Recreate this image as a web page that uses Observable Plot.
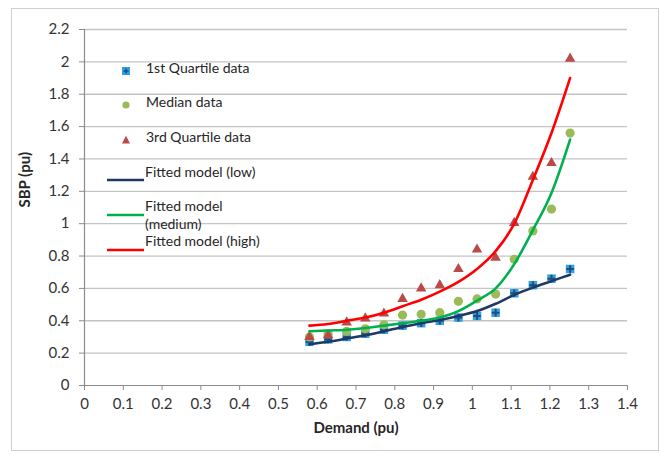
<!DOCTYPE html>
<html>
<head>
<meta charset="utf-8">
<script src="https://cdn.jsdelivr.net/npm/d3@7"></script>
<script src="https://cdn.jsdelivr.net/npm/@observablehq/plot@0.6"></script>
<style>
  html, body { margin: 0; padding: 0; background: #fff; }
  #wrap { position: relative; width: 664px; height: 456px; font-family: Lato, "Open Sans", sans-serif; }
  #border { position: absolute; left: 11px; top: 8px; width: 646px; height: 441px; border: 1px solid #cfcfcf; pointer-events: none; }
  #legend { position: absolute; left: 0; top: 0; width: 664px; height: 456px; pointer-events: none; font-size: 14px; color: #262626; }
  .item { position: absolute; white-space: nowrap; line-height: 18px; }
  .sw { position: absolute; }
</style>
</head>
<body>
<div id="wrap">
  <div id="chart"></div>
  <div id="border"></div>
  <div id="legend"></div>
</div>
<script>
// Demand (pu) for each observation
const demand = [0.58, 0.628, 0.676, 0.724, 0.772, 0.82, 0.868, 0.916, 0.964, 1.012, 1.06, 1.108, 1.156, 1.204, 1.252];
// observed SBP (pu)
const q1Data = [0.27, 0.285, 0.30, 0.32, 0.345, 0.37, 0.385, 0.40, 0.42, 0.43, 0.45, 0.57, 0.62, 0.66, 0.72];
const medianData = [0.30, 0.32, 0.335, 0.35, 0.375, 0.435, 0.44, 0.45, 0.52, 0.535, 0.565, 0.78, 0.955, 1.09, 1.56];
const q3Data = [0.30, 0.31, 0.39, 0.415, 0.445, 0.535, 0.60, 0.62, 0.72, 0.84, 0.79, 1.005, 1.29, 1.375, 2.02];
// fitted models, read at the same demand values
const fitLow = [0.255, 0.27, 0.29, 0.31, 0.335, 0.362, 0.385, 0.405, 0.43, 0.46, 0.505, 0.56, 0.605, 0.645, 0.685];
const fitMedium = [0.335, 0.34, 0.345, 0.355, 0.37, 0.385, 0.40, 0.42, 0.46, 0.525, 0.60, 0.75, 0.96, 1.19, 1.52];
const fitHigh = [0.37, 0.38, 0.40, 0.42, 0.45, 0.49, 0.53, 0.58, 0.64, 0.72, 0.83, 1.00, 1.27, 1.56, 1.90];
// axes
const xTicks = [0, 0.1, 0.2, 0.3, 0.4, 0.5, 0.6, 0.7, 0.8, 0.9, 1, 1.1, 1.2, 1.3, 1.4];
const yTicks = [0, 0.2, 0.4, 0.6, 0.8, 1, 1.2, 1.4, 1.6, 1.8, 2, 2.2];
const xTitle = "Demand (pu)";
const yTitle = "SBP (pu)";
const legendLabels = ["1st Quartile data", "Median data", "3rd Quartile data", "Fitted model (low)", "Fitted model\n(medium)", "Fitted model (high)"];

const C = {
  q1Fill: "#2f9fe6", q1Cross: "#1f4e79",
  median: "#9bbb59", q3: "#b94a48",
  low: "#1f3864", medium: "#00b050", high: "#ff0000",
  grid: "#c4c4c4", axis: "#8c8c8c", text: "#333333"
};

const idx = d3.range(demand.length);
const fmt = d => String(+d.toFixed(1));

const chart = Plot.plot({
  width: 664, height: 456,
  marginLeft: 84, marginRight: 37, marginTop: 29, marginBottom: 71,
  style: { fontFamily: "Lato, 'Open Sans', sans-serif", fontSize: "15px", color: C.text, background: "transparent" },
  x: { domain: [0, 1.4] },
  y: { domain: [0, 2.2] },
  marks: [
    Plot.gridY(yTicks.filter(d => d > 0), { stroke: C.grid, strokeOpacity: 1, strokeWidth: 1.3 }),
    Plot.axisX(xTicks, { tickSize: 5, tickPadding: 8, tickFormat: fmt, stroke: C.axis, fill: C.text, label: null }),
    Plot.axisY(yTicks, { tickSize: 5, tickPadding: 10, tickFormat: fmt, stroke: C.axis, fill: C.text, label: null }),
    Plot.ruleY([0], { stroke: C.axis, strokeWidth: 1.2 }),
    Plot.ruleX([0], { stroke: C.axis, strokeWidth: 1.2 }),
    Plot.dot(idx, { x: i => demand[i], y: i => q1Data[i], symbol: "square", fill: C.q1Fill, r: 4.8 }),
    Plot.dot(idx, { x: i => demand[i], y: i => q1Data[i], symbol: "plus", stroke: C.q1Cross, r: 2.6, strokeWidth: 2 }),
    Plot.dot(idx, { x: i => demand[i], y: i => medianData[i], symbol: "circle", fill: C.median, r: 4.6 }),
    Plot.dot(idx, { x: i => demand[i], y: i => q3Data[i], symbol: "triangle", fill: C.q3, r: 3.9 }),
    Plot.line(idx, { x: i => demand[i], y: i => fitLow[i], stroke: C.low, strokeWidth: 2.6, curve: "monotone-x" }),
    Plot.line(idx, { x: i => demand[i], y: i => fitMedium[i], stroke: C.medium, strokeWidth: 2.6, curve: "monotone-x" }),
    Plot.line(idx, { x: i => demand[i], y: i => fitHigh[i], stroke: C.high, strokeWidth: 2.6, curve: "monotone-x" }),
    Plot.text([xTitle], { frameAnchor: "bottom", dy: 47, fontWeight: "bold", fontSize: 15, fill: "#262626" }),
    Plot.text([yTitle], { frameAnchor: "left", dx: -59, rotate: -90, fontWeight: "bold", fontSize: 15, fill: "#262626" })
  ]
});
document.getElementById("chart").appendChild(chart);

// legend (inside plot area, as in the reference)
const legend = document.getElementById("legend");
const rows = [
  { y: 68.5, kind: "q1" },
  { y: 102.5, kind: "median" },
  { y: 137.5, kind: "q3" },
  { y: 172, kind: "line", color: C.low },
  { y: 206.5, kind: "line", color: C.medium },
  { y: 241.5, kind: "line", color: C.high }
];
rows.forEach((r, k) => {
  const sw = document.createElement("div");
  sw.className = "sw";
  let svg;
  if (r.kind === "q1") {
    svg = `<svg width="12" height="12"><rect x="2" y="2" width="8" height="8" fill="${C.q1Fill}"/><path d="M6 3.5V8.5M3.5 6H8.5" stroke="${C.q1Cross}" stroke-width="1.6"/></svg>`;
    sw.style.left = "120px"; sw.style.top = (r.y - 6) + "px";
  } else if (r.kind === "median") {
    svg = `<svg width="12" height="12"><circle cx="6" cy="6" r="3.6" fill="${C.median}"/></svg>`;
    sw.style.left = "120px"; sw.style.top = (r.y - 6) + "px";
  } else if (r.kind === "q3") {
    svg = `<svg width="12" height="12"><path d="M6 1.8L10 9.6H2Z" fill="${C.q3}"/></svg>`;
    sw.style.left = "120px"; sw.style.top = (r.y - 6) + "px";
  } else {
    svg = `<svg width="38" height="6"><line x1="0" y1="3" x2="37" y2="3" stroke="${r.color}" stroke-width="2.6"/></svg>`;
    sw.style.left = "107px"; sw.style.top = (r.y - 3) + "px";
  }
  sw.innerHTML = svg;
  legend.appendChild(sw);
  const t = document.createElement("div");
  t.className = "item";
  t.style.left = (k < 3 ? 146 : 145) + "px";
  t.style.top = (r.y - 9.5) + "px";
  t.innerHTML = legendLabels[k].replace("\n", "<br>");
  legend.appendChild(t);
});
</script>
</body>
</html>
